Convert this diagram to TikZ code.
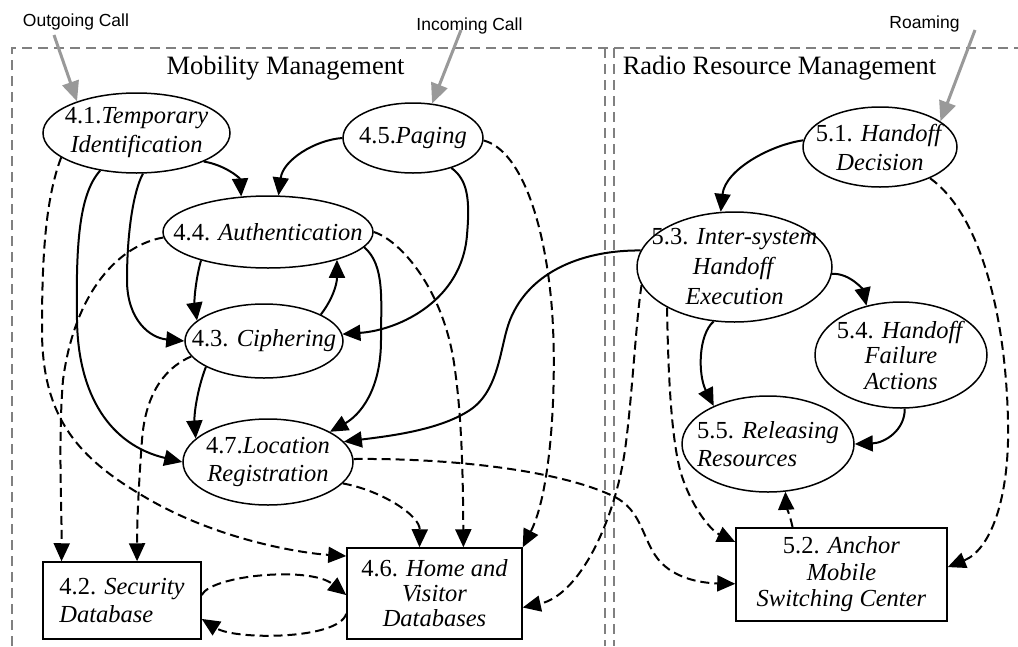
\documentclass[tikz,border=0pt]{standalone}
\usepackage{fontspec}
\setmainfont{Liberation Serif}
\newfontfamily\lblfont{Liberation Sans}
\usetikzlibrary{arrows.meta,shapes.geometric}
\begin{document}
\begin{tikzpicture}[x=1pt,y=-1pt,
  ell/.style={draw,ellipse,line width=1.5pt,inner sep=0pt},
  box/.style={draw,rectangle,line width=1.5pt,inner sep=0pt},
  txt/.style={align=center,inner sep=0pt,font=\fontsize{24.5}{28}\selectfont},
  title/.style={inner sep=0pt,anchor=base,font=\fontsize{26.5}{30}\selectfont},
  lbl/.style={inner sep=0pt,anchor=base,font=\lblfont\fontsize{17.5}{20}\selectfont},
  sol/.style={line width=2pt,-{Triangle[length=18pt,width=16pt]}},
  dsh/.style={sol,dash pattern=on 9pt off 5pt},
  grayarr/.style={draw=black!40,line width=3pt,-{Triangle[length=20pt,width=17pt,fill=black!40]}},
  frame/.style={draw=black!50,line width=2.5pt,dash pattern=on 10pt off 6pt}
]
\useasboundingbox (0,0) rectangle (1018,646);

% frames
\draw[frame] (12,646) -- (12,48) -- (1018,48);
\draw[frame] (605,48) -- (605,646);
\draw[frame] (614,48) -- (614,646);
\node[title] (mmt) at (285.5,74) {Mobility Management};
\node[title] (rrmt) at (779.5,74) {Radio Resource Management};

% external labels
\node[lbl] (outl) at (76,26) {Outgoing Call};
\node[lbl] (inl) at (469.5,30) {Incoming Call};
\node[lbl] (roaml) at (924.5,28) {Roaming};

% nodes
\node[ell,minimum width=187pt,minimum height=80pt] (n41) at (136.5,133) {};
\node[txt,font=\fontsize{24.5}{29}\selectfont] (t41) at (n41) {4.1.\textit{Temporary}\\\textit{Identification}};
\node[ell,minimum width=140pt,minimum height=70pt] (n45) at (413,138) {};
\node[txt] (t45) at (n45) {4.5.\textit{Paging}};
\node[ell,minimum width=210pt,minimum height=72pt] (n44) at (268,232) {};
\node[txt] (t44) at (n44) {4.4. \textit{Authentication}};
\node[ell,minimum width=158pt,minimum height=74pt] (n43) at (264,341) {};
\node[txt] (t43) at (n43) {4.3. \textit{Ciphering}};
\node[ell,minimum width=170pt,minimum height=86pt] (n47) at (268,462) {};
\node[txt] (t47) at (n47) {4.7.\textit{Location}\\\textit{Registration}};
\node[box,minimum width=158pt,minimum height=77pt] (n42) at (122,600.5) {};
\node[txt,align=left] (t42) at (n42) {4.2. \textit{Security}\\\textit{Database}};
\node[box,minimum width=175pt,minimum height=91pt] (n46) at (434.5,593.5) {};
\node[txt,font=\fontsize{24.5}{25}\selectfont] (t46) at (n46) {4.6. \textit{Home and}\\\textit{Visitor}\\\textit{Databases}};

\node[ell,minimum width=154pt,minimum height=80pt] (n51) at (880,147) {};
\node[txt,font=\fontsize{24.5}{29}\selectfont] (t51) at (n51) {5.1. \textit{Handoff}\\\textit{Decision}};
\node[ell,minimum width=195pt,minimum height=110pt] (n53) at (734.5,267) {};
\node[txt,font=\fontsize{24.5}{30}\selectfont] (t53) at (n53) {5.3. \textit{Inter-system}\\\textit{Handoff}\\\textit{Execution}};
\node[ell,minimum width=172pt,minimum height=106pt] (n54) at (901,355) {};
\node[txt,font=\fontsize{24.5}{25.5}\selectfont] (t54) at (n54) {5.4. \textit{Handoff}\\\textit{Failure}\\\textit{Actions}};
\node[ell,minimum width=172pt,minimum height=96pt] (n55) at (768,444) {};
\node[txt,align=left] (t55) at (n55) {5.5. \textit{Releasing}\\\textit{Resources}};
\node[box,minimum width=211pt,minimum height=93pt] (n52) at (841.5,574.5) {};
\node[txt,font=\fontsize{24.5}{26.5}\selectfont] (t52) at (n52) {5.2. \textit{Anchor}\\\textit{Mobile}\\\textit{Switching Center}};

% gray input arrows
\coordinate (o1) at (54,35);
\coordinate (i1) at (461,30);
\coordinate (r1) at (975,30);
\draw[grayarr] (o1) -- (n41.152);
\draw[grayarr] (i1) -- (n45.61);
\draw[grayarr] (r1) -- (n51.23);

% solid edges
\draw[sol] (n41.-23) .. controls (225,165) and (240,178) .. (n44.127);
\draw[sol] (n45.west) .. controls (315,140) and (283,160) .. (n44.74);
\draw[sol] (n41.-134) .. controls (78,195) and (76,250) .. (77,320) .. controls (78,395) and (110,445) .. (n47.west);
\draw[sol] (n41.-81) .. controls (134,190) and (127,230) .. (127,280) .. controls (127,320) and (150,338) .. (n43.west);
\draw[sol] (n44.-157) .. controls (196,278) and (194,300) .. (n43.163);
\draw[sol] (n43.25) .. controls (332,300) and (337,285) .. (n44.-22);
\draw[sol] (n45.-38) .. controls (468,180) and (470,200) .. (467,235) .. controls (462,300) and (400,330) .. (n43.5);
\draw[sol] (n43.-156) .. controls (197,390) and (194,415) .. (n47.162);
\draw[sol] (n44.-9) .. controls (385,265) and (381,300) .. (381,340) .. controls (381,390) and (360,415) .. (n47.26);
\draw[sol] (n53.170) .. controls (585,250) and (530,270) .. (510,320) .. controls (500,345) and (500,390) .. (470,410) .. controls (440,430) and (390,436) .. (n47.15);
\draw[sol] (n51.175) .. controls (770,145) and (725,170) .. (n53.104);
\draw[sol] (n53.-4) .. controls (850,273) and (863,290) .. (n54.125);
\draw[sol] (n53.-111) .. controls (698,335) and (698,375) .. (n55.145);
\draw[sol] (n54.-86) .. controls (905,430) and (885,443) .. (n55.east);

% dashed edges
\draw[dsh] (n45.-2) .. controls (520,150) and (545,220) .. (552,310) .. controls (557,380) and (552,490) .. (n46.north east);
\draw[dsh] (n44.east) .. controls (400,240) and (445,290) .. (455,370) .. controls (462,420) and (463,480) .. (n46.58);
\draw[dsh] (n47.-16) .. controls (380,490) and (420,515) .. (n46.108);
\draw[dsh] (n47.2) .. controls (450,458) and (560,470) .. (615,497) .. controls (640,510) and (642,535) .. (655,555) .. controls (670,578) and (700,583) .. (n52.185);
\draw[dsh] (n53.191) .. controls (636,320) and (632,400) .. (625,450) .. controls (615,520) and (580,595) .. (n46.-9);
\draw[dsh] (n53.-149) .. controls (668,360) and (670,430) .. (680,470) .. controls (690,505) and (710,530) .. (n52.163);
\draw[dsh] (n51.-32) .. controls (975,210) and (1005,300) .. (1008,420) .. controls (1010,500) and (990,550) .. (n52.4);
\draw[dsh] (n52.136) .. controls (790,515) and (786,505) .. (n55.-70);
\draw[dsh] (n41.-162) .. controls (45,200) and (42,260) .. (42,330) .. controls (42,420) and (80,460) .. (150,500) .. controls (220,540) and (300,553) .. (n46.157);
\draw[dsh] (n44.183) .. controls (120,245) and (75,290) .. (63,380) .. controls (58,440) and (62,520) .. (n42.147);
\draw[dsh] (n43.192) .. controls (160,370) and (145,400) .. (142,440) .. controls (139,480) and (137,520) .. (n42.69);
\draw[dsh] (n42.4) .. controls (212,575) and (310,566) .. (n46.181);
\draw[dsh] (n46.193) .. controls (338,640) and (235,640) .. (n42.-13);
\end{tikzpicture}
\end{document}
